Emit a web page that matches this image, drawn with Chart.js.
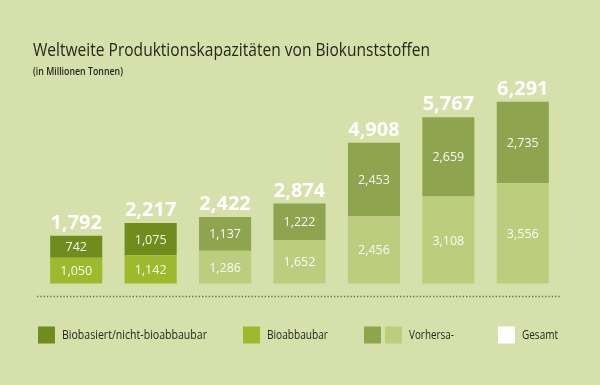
<!DOCTYPE html>
<html lang="de">
<head>
<meta charset="utf-8">
<script src="https://cdn.jsdelivr.net/npm/chart.js@4.4.1/dist/chart.umd.min.js"></script>
<style>
  html, body { margin: 0; padding: 0; background: #d6e0ab; }
  #wrap { width: 600px; height: 385px; position: relative; }
</style>
</head>
<body>
<div id="wrap"><canvas id="bioChart"></canvas></div>
<script>
// Werte in Tausend Tonnen (Anzeige mit Komma als Tausendertrenner)
const categories = ['1', '2', '3', '4', '5', '6', '7'];
const bioabbaubar   = [1050, 1142, null, null, null, null, null];
const biobasiert    = [742, 1075, null, null, null, null, null];
const prognoseUnten = [null, null, 1286, 1652, 2456, 3108, 3556];
const prognoseOben  = [null, null, 1137, 1222, 2453, 2659, 2735];
const gesamt        = [1792, 2217, 2422, 2874, 4908, 5767, 6291];

const FONT = "'Open Sans', sans-serif";
const colDunkel = '#708c1c';
const colHell = '#9cba2c';
const colPrognoseDunkel = '#8fa44f';
const colPrognoseHell = '#bccd7d';
const textDark = '#25271b';

const fmt = v => String(v).replace(/\B(?=(\d{3})+(?!\d))/g, ',');

function fitText(ctx, text, x, y, w) {
  const m = ctx.measureText(text).width;
  ctx.save();
  ctx.translate(x, y);
  if (m > w) ctx.scale(w / m, 1);
  ctx.fillText(text, 0, 0);
  ctx.restore();
}

const decorPlugin = {
  id: 'decor',
  afterDatasetsDraw(chart) {
    const ctx = chart.ctx;
    const area = chart.chartArea;

    // segment labels
    ctx.save();
    ctx.fillStyle = 'rgba(255,255,255,0.93)';
    ctx.font = '12.5px ' + FONT;
    ctx.textAlign = 'center';
    ctx.textBaseline = 'middle';
    chart.data.datasets.forEach((ds, d) => {
      chart.getDatasetMeta(d).data.forEach((el, i) => {
        const v = ds.data[i];
        if (v == null) return;
        const bottom = Math.min(el.base, area.bottom);
        ctx.fillText(fmt(v), el.x, (el.y + bottom) / 2 + 1);
      });
    });

    // totals on top
    ctx.fillStyle = '#ffffff';
    ctx.font = 'bold 20px ' + FONT;
    ctx.textBaseline = 'alphabetic';
    gesamt.forEach((t, i) => {
      let top = null;
      chart.data.datasets.forEach((ds, d) => {
        if (ds.data[i] != null) top = chart.getDatasetMeta(d).data[i];
      });
      if (top) ctx.fillText(fmt(t), top.x, top.y - 7);
    });
    ctx.restore();
  },
  afterDraw(chart) {
    const ctx = chart.ctx;
    ctx.save();
    // title
    ctx.fillStyle = textDark;
    ctx.textAlign = 'left';
    ctx.textBaseline = 'alphabetic';
    ctx.font = '18px ' + FONT;
    fitText(ctx, 'Weltweite Produktionskapazitäten von Biokunststoffen', 33, 56, 397);
    ctx.font = '600 10px ' + FONT;
    fitText(ctx, '(in Millionen Tonnen)', 33, 75, 90);

    // dotted baseline
    ctx.strokeStyle = 'rgba(85,92,55,0.85)';
    ctx.lineWidth = 1.4;
    ctx.setLineDash([1.3, 2]);
    ctx.beginPath();
    ctx.moveTo(37, 296.5);
    ctx.lineTo(560, 296.5);
    ctx.stroke();
    ctx.setLineDash([]);

    // legend
    const items = [
      { boxes: [[38, colDunkel]], tx: 62, w: 145, label: 'Biobasiert/nicht-bioabbaubar' },
      { boxes: [[243, colHell]], tx: 267, w: 61, label: 'Bioabbaubar' },
      { boxes: [[364, colPrognoseDunkel], [385, colPrognoseHell]], tx: 409, w: 45, label: 'Vorhersa-' },
      { boxes: [[498, '#ffffff']], tx: 522, w: 36, label: 'Gesamt' }
    ];
    ctx.font = '12px ' + FONT;
    ctx.textBaseline = 'middle';
    items.forEach(it => {
      it.boxes.forEach(([bx, c]) => {
        ctx.fillStyle = c;
        ctx.fillRect(bx, 326.5, 17, 17);
      });
      ctx.fillStyle = textDark;
      fitText(ctx, it.label, it.tx, 335.5, it.w);
    });
    ctx.restore();
  }
};

const barOpts = { barPercentage: 0.7, categoryPercentage: 1.0, borderWidth: 0, stack: 'gesamt' };

new Chart(document.getElementById('bioChart'), {
  type: 'bar',
  data: {
    labels: categories,
    datasets: [
      { label: 'Bioabbaubar', data: bioabbaubar, backgroundColor: colHell, ...barOpts },
      { label: 'Vorhersage bioabbaubar', data: prognoseUnten, backgroundColor: colPrognoseHell, ...barOpts },
      { label: 'Biobasiert/nicht-bioabbaubar', data: biobasiert, backgroundColor: colDunkel, ...barOpts },
      { label: 'Vorhersage biobasiert', data: prognoseOben, backgroundColor: colPrognoseDunkel, ...barOpts }
    ]
  },
  options: {
    responsive: true,
    maintainAspectRatio: false,
    animation: false,
    layout: { padding: { top: 60, bottom: 101.5, left: 39, right: 40 } },
    plugins: {
      legend: { display: false },
      tooltip: { enabled: false }
    },
    scales: {
      x: { stacked: true, display: false },
      y: { stacked: true, display: false, min: 190, max: 7690 }
    }
  },
  plugins: [decorPlugin]
});
</script>
</body>
</html>
